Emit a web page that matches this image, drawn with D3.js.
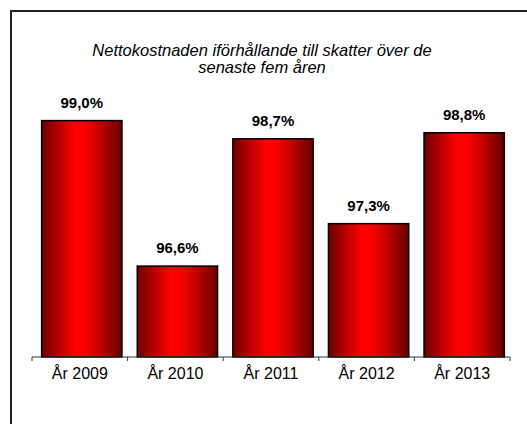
<!DOCTYPE html>
<html>
<head>
<meta charset="utf-8">
<script src="https://cdn.jsdelivr.net/npm/d3@7"></script>
<style>
  body { margin: 0; background: #fff; }
  svg { display: block; font-family: Arial, "Liberation Sans", sans-serif; }
</style>
</head>
<body>
<div id="chart"></div>
<script>
// data
const years = ["År 2009", "År 2010", "År 2011", "År 2012", "År 2013"];
const ratios = [99.0, 96.6, 98.7, 97.3, 98.8];
const titleLines = ["Nettokostnaden iförhållande till skatter över de", "senaste fem åren"];

const W = 527, H = 424;
const svg = d3.select("#chart").append("svg")
  .attr("width", W).attr("height", H);

// outer frame (runs past the right/bottom edge like the source)
svg.append("rect")
  .attr("x", 11).attr("y", 11)
  .attr("width", W + 20).attr("height", H + 20)
  .attr("fill", "none")
  .attr("stroke", "#222")
  .attr("stroke-width", 2);

// gradient for the bars: dark edges, bright middle
const grad = svg.append("defs").append("linearGradient")
  .attr("id", "barGrad")
  .attr("x1", "0%").attr("y1", "0%").attr("x2", "100%").attr("y2", "0%");
grad.append("stop").attr("offset", "0%").attr("stop-color", "#6e0000");
grad.append("stop").attr("offset", "42%").attr("stop-color", "#ff0000");
grad.append("stop").attr("offset", "55%").attr("stop-color", "#f80000");
grad.append("stop").attr("offset", "100%").attr("stop-color", "#680000");

const baseY = 357;

const x = d3.scaleBand()
  .domain(years)
  .range([32, 510])
  .paddingInner(0.16)
  .paddingOuter(0.08);

const y = d3.scaleLinear()
  .domain([95.1, 100])
  .range([baseY, 60]);

// title
svg.append("text")
  .attr("x", 262)
  .attr("y", 56)
  .attr("text-anchor", "middle")
  .style("font-size", "16.5px")
  .style("font-style", "italic")
  .attr("fill", "#000")
  .selectAll("tspan")
  .data(titleLines)
  .join("tspan")
  .attr("x", 262)
  .attr("dy", (d, i) => i === 0 ? 0 : 17)
  .text(d => d);

// bars
svg.append("g")
  .selectAll("rect")
  .data(ratios)
  .join("rect")
  .attr("x", (d, i) => x(years[i]) + 2)
  .attr("y", d => y(d))
  .attr("width", x.bandwidth())
  .attr("height", d => baseY - y(d))
  .attr("fill", "url(#barGrad)")
  .attr("stroke", "#000")
  .attr("stroke-width", 1.5);

// value labels
svg.append("g")
  .selectAll("text")
  .data(ratios)
  .join("text")
  .attr("x", (d, i) => x(years[i]) + x.bandwidth() / 2 + 2)
  .attr("y", d => y(d) - 13)
  .attr("text-anchor", "middle")
  .style("font-size", "15px")
  .style("font-weight", "bold")
  .attr("fill", "#000")
  .text(d => d.toFixed(1).replace(".", ",") + "%");

// x axis: labels centred in bands, ticks between categories
const axis = svg.append("g")
  .attr("transform", "translate(0," + baseY + ")")
  .call(d3.axisBottom(x).tickSize(0).tickPadding(11));
axis.select(".domain").remove();
axis.selectAll("text")
  .style("font-size", "16px")
  .style("font-family", "Arial, 'Liberation Sans', sans-serif")
  .attr("fill", "#000");

axis.append("line")
  .attr("x1", x.range()[0]).attr("x2", x.range()[1])
  .attr("stroke", "#333").attr("stroke-width", 1);

const bounds = d3.range(years.length + 1).map(i => x.range()[0] + i * x.step());
axis.selectAll(".sep")
  .data(bounds)
  .join("line")
  .attr("class", "sep")
  .attr("x1", d => d).attr("x2", d => d)
  .attr("y1", 0).attr("y2", 4)
  .attr("stroke", "#333").attr("stroke-width", 1);
</script>
</body>
</html>
